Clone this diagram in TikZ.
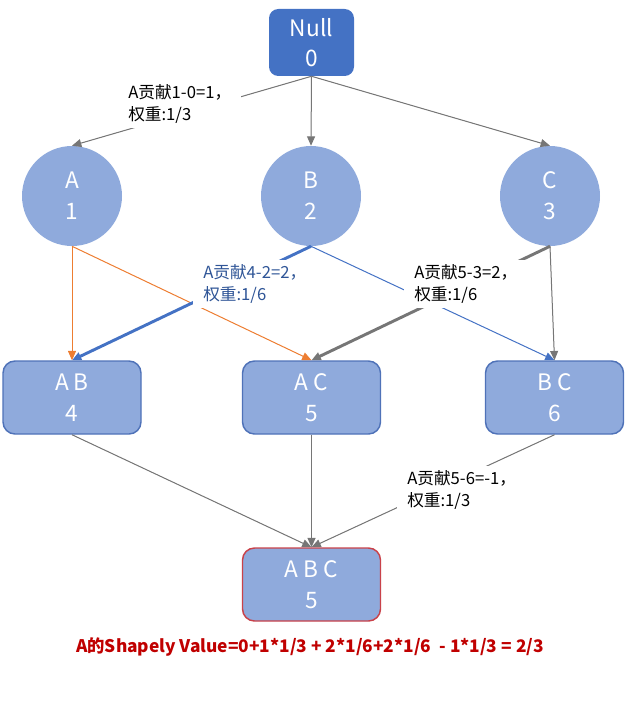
\documentclass[tikz,border=0pt]{standalone}
\usepackage{fontspec}
\setmainfont{Noto Sans CJK SC}
\usetikzlibrary{arrows.meta}
\definecolor{nullblue}{HTML}{4472C4}
\definecolor{nodefill}{HTML}{8FAADC}
\definecolor{boxborder}{HTML}{4F72B8}
\definecolor{redborder}{HTML}{C9424A}
\definecolor{edgegray}{HTML}{767676}
\definecolor{edgeorange}{HTML}{ED7D31}
\definecolor{labelblue}{HTML}{2F5597}
\definecolor{valred}{HTML}{C00000}
\begin{document}
\begin{tikzpicture}[x=0.75pt,y=-0.75pt,
  nodetext/.style={text=white,align=center,font=\fontsize{17pt}{23pt}\selectfont},
  nullbox/.style={nodetext,rectangle,rounded corners=7pt,fill=nullblue,minimum width=63.75pt,minimum height=50.25pt,inner sep=0pt},
  circ/.style={nodetext,circle,fill=nodefill,minimum size=75pt,inner sep=0pt},
  rbox/.style={nodetext,rectangle,rounded corners=9pt,fill=nodefill,draw=boxborder,line width=1.1pt,minimum width=103.5pt,minimum height=54.75pt,inner sep=0pt},
  tip/.style={-{Triangle[length=7pt,width=6pt]}},
  edge/.style={tip,draw=edgegray,fill=edgegray,line width=0.75pt},
  thickgray/.style={tip,draw=edgegray,line width=2.2pt},
  orangeedge/.style={tip,draw=edgeorange,line width=0.75pt},
  blueedge/.style={tip,draw=nullblue,line width=0.75pt},
  thickblue/.style={tip,draw=nullblue,line width=2.2pt},
  lbl/.style={fill=white,anchor=west,align=left,inner xsep=7.5pt,inner ysep=4pt,font=\fontsize{12.5pt}{16pt}\selectfont}
]
\useasboundingbox (0,0) rectangle (626,717);

\node[nullbox] (null) at (311.5,42.5) {Null\\0};
\node[circ] (A) at (72,196) {A\\1};
\node[circ] (B) at (311,196) {B\\2};
\node[circ] (C) at (550,196) {C\\3};
\node[rbox] (AB) at (72,397.5) {A B\\4};
\node[rbox] (AC) at (311.5,397.5) {A C\\5};
\node[rbox] (BC) at (554.5,397.5) {B C\\6};
\node[rbox,draw=redborder] (ABC) at (311.5,584.5) {A B C\\5};

\draw[edge] (null.south) -- (A.north);
\draw[edge] (null.south) -- (B.north);
\draw[edge] (null.south) -- (C.north);
\draw[orangeedge] (A.south) -- (AB.north);
\draw[orangeedge] (A.south) -- (AC.north);
\draw[thickblue] (B.south) -- (AB.north);
\draw[blueedge] (B.south) -- (BC.north);
\draw[thickgray] (C.south) -- (AC.north);
\draw[edge] (C.south) -- (BC.north);
\draw[edge] (AB.south) -- (ABC.north);
\draw[edge] (AC.south) -- (ABC.north);
\draw[edge] (BC.south) -- (ABC.north);

\node[lbl] (l1) at (118,104) {A贡献1-0=1，\\权重:1/3};
\node[lbl,text=labelblue] (l2) at (193,284) {A贡献4-2=2，\\权重:1/6};
\node[lbl] (l3) at (404,284) {A贡献5-3=2，\\权重:1/6};
\node[lbl] (l4) at (397,490) {A贡献5-6=-1，\\权重:1/3};

\node[text=valred,font=\fontsize{13pt}{15pt}\selectfont\bfseries] (val) at (310,647) {A的Shapely Value=0+1*1/3 + 2*1/6+2*1/6\ \ - 1*1/3 = 2/3};
\end{tikzpicture}
\end{document}
